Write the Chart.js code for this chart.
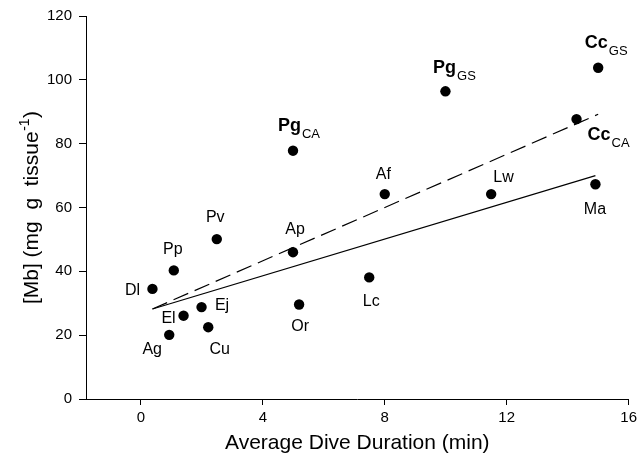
<!DOCTYPE html>
<html>
<head>
<meta charset="utf-8">
<style>
  html, body { margin: 0; padding: 0; background: #fff; }
  #c { display: block; }
</style>
<script src="https://cdn.jsdelivr.net/npm/chart.js@4.4.1/dist/chart.umd.min.js"></script>
</head>
<body>
<canvas id="c" width="641" height="454"></canvas>
<script>
// ---- data ----
const species     = ['Dl','Pp','Ag','El','Ej','Cu','Pv','Ap','Or','Pg','Lc','Af','Pg','Lw','Cc','Cc','Ma'];
const speciesSub  = ['','','','','','','','','','CA','','','GS','','GS','CA',''];
const diveDuration = [0.38, 1.08, 0.93, 1.40, 1.99, 2.21, 2.49, 4.99, 5.19, 4.99, 7.49, 8.00, 9.99, 11.49, 15.00, 14.29, 14.91];
const mbConc       = [34.5, 40.3, 20.1, 26.1, 28.8, 22.5, 50.1, 46.0, 29.6, 77.8, 38.1, 64.2, 96.4, 64.2, 103.8, 87.7, 67.3];

const solidFitX  = [0.38, 14.91];
const solidFitY  = [28.2, 70.0];
const dashedFitX = [0.38, 15.00];
const dashedFitY = [28.2, 89.2];

const xTickValues = [0, 4, 8, 12, 16];
const yTickValues = [0, 20, 40, 60, 80, 100, 120];

const xTitle = 'Average Dive Duration (min)';
const yTitleMain = '[Mb] (mg  g  tissue';
const yTitleSup = '-1';
const yTitleEnd = ')';

// ---- label placement (pixel offsets from each point, style only) ----
const labelOffsets = [[-20,0],[-1,-22.5],[-17,13],[-15,1.5],[20.5,-3],[11.5,21],[-1.5,-22.5],[2,-23.5],[1,21],
                      [6,-26],[2,23],[-1.5,-21],[9,-24.5],[12.4,-17.6],[8,-25.7],[32,14.7],[-0.5,24]];

const FONT = "'Liberation Sans', Arial, Helvetica, sans-serif";

const pointData = diveDuration.map((x, i) => ({ x: x, y: mbConc[i] }));
const solidData = solidFitX.map((x, i) => ({ x: x, y: solidFitY[i] }));
const dashedData = dashedFitX.map((x, i) => ({ x: x, y: dashedFitY[i] }));

const labelPlugin = {
  id: 'pointLabels',
  afterDatasetsDraw(chart) {
    const ctx = chart.ctx;
    const meta = chart.getDatasetMeta(0);
    ctx.save();
    ctx.fillStyle = '#000';
    ctx.textBaseline = 'alphabetic';
    meta.data.forEach((el, i) => {
      const cx = el.x + labelOffsets[i][0];
      const cy = el.y + labelOffsets[i][1];
      if (speciesSub[i]) {
        const mainSize = 18, subSize = 13;
        ctx.font = 'bold ' + mainSize + 'px ' + FONT;
        const wMain = ctx.measureText(species[i]).width;
        ctx.font = subSize + 'px ' + FONT;
        const wSub = ctx.measureText(speciesSub[i]).width;
        const start = cx - (wMain + 1 + wSub) / 2;
        const base = cy + mainSize * 0.716 / 2;
        ctx.textAlign = 'left';
        ctx.font = 'bold ' + mainSize + 'px ' + FONT;
        ctx.fillText(species[i], start, base);
        ctx.font = subSize + 'px ' + FONT;
        ctx.fillText(speciesSub[i], start + wMain + 1, base + 7);
      } else {
        const size = 16;
        ctx.font = size + 'px ' + FONT;
        ctx.textAlign = 'center';
        ctx.fillText(species[i], cx, cy + size * 0.716 / 2);
      }
    });
    ctx.restore();
  },
  afterDraw(chart) {
    const ctx = chart.ctx;
    const area = chart.chartArea;
    ctx.save();
    ctx.fillStyle = '#000';
    // x title
    ctx.font = '21px ' + FONT;
    ctx.textAlign = 'center';
    ctx.textBaseline = 'alphabetic';
    ctx.fillText(xTitle, (area.left + area.right) / 2, 448.5);
    // y title (rotated, with superscript)
    ctx.translate(37.5, (area.top + area.bottom) / 2);
    ctx.rotate(-Math.PI / 2);
    ctx.textAlign = 'left';
    ctx.font = '21px ' + FONT;
    const w1 = ctx.measureText(yTitleMain).width;
    const w3 = ctx.measureText(yTitleEnd).width;
    ctx.font = '14px ' + FONT;
    const w2 = ctx.measureText(yTitleSup).width;
    const total = w1 + w2 + w3 + 1;
    let x0 = -total / 2;
    ctx.font = '21px ' + FONT;
    ctx.fillText(yTitleMain, x0, 0);
    ctx.font = '14px ' + FONT;
    ctx.fillText(yTitleSup, x0 + w1 + 0.5, -9);
    ctx.font = '21px ' + FONT;
    ctx.fillText(yTitleEnd, x0 + w1 + w2 + 1, 0);
    ctx.restore();
  }
};

new Chart(document.getElementById('c'), {
  type: 'scatter',
  data: {
    datasets: [
      {
        type: 'scatter',
        data: pointData,
        backgroundColor: '#000',
        borderColor: '#000',
        pointRadius: 5.2,
        pointHoverRadius: 5.2,
        borderWidth: 0,
        order: 0
      },
      {
        type: 'line',
        data: solidData,
        borderColor: '#000',
        borderWidth: 1.2,
        pointRadius: 0,
        fill: false,
        tension: 0,
        order: 1
      },
      {
        type: 'line',
        data: dashedData,
        borderColor: '#000',
        borderWidth: 1.2,
        borderDash: [16, 7],
        pointRadius: 0,
        fill: false,
        tension: 0,
        order: 2
      }
    ]
  },
  options: {
    responsive: false,
    animation: false,
    devicePixelRatio: 1,
    layout: { padding: { top: 16, right: 9, left: 0, bottom: 0 } },
    plugins: { legend: { display: false }, tooltip: { enabled: false } },
    scales: {
      x: {
        type: 'linear',
        min: -1.8,
        max: 16,
        afterBuildTicks: s => { s.ticks = xTickValues.map(v => ({ value: v })); },
        afterFit: s => { s.height = 55; },
        ticks: { font: { family: FONT, size: 15 }, color: '#000', padding: 4, autoSkip: false, maxRotation: 0 },
        grid: { drawOnChartArea: false, drawTicks: true, tickLength: 6, color: '#000', lineWidth: 1 },
        border: { display: true, color: '#000', width: 1 }
      },
      y: {
        type: 'linear',
        min: 0,
        max: 120,
        afterBuildTicks: s => { s.ticks = yTickValues.map(v => ({ value: v })); },
        afterFit: s => { s.width = 86; },
        ticks: { font: { family: FONT, size: 15 }, color: '#000', padding: 7, autoSkip: false },
        grid: { drawOnChartArea: false, drawTicks: true, tickLength: 7, color: '#000', lineWidth: 1 },
        border: { display: true, color: '#000', width: 1 }
      }
    }
  },
  plugins: [labelPlugin]
});
</script>
</body>
</html>
